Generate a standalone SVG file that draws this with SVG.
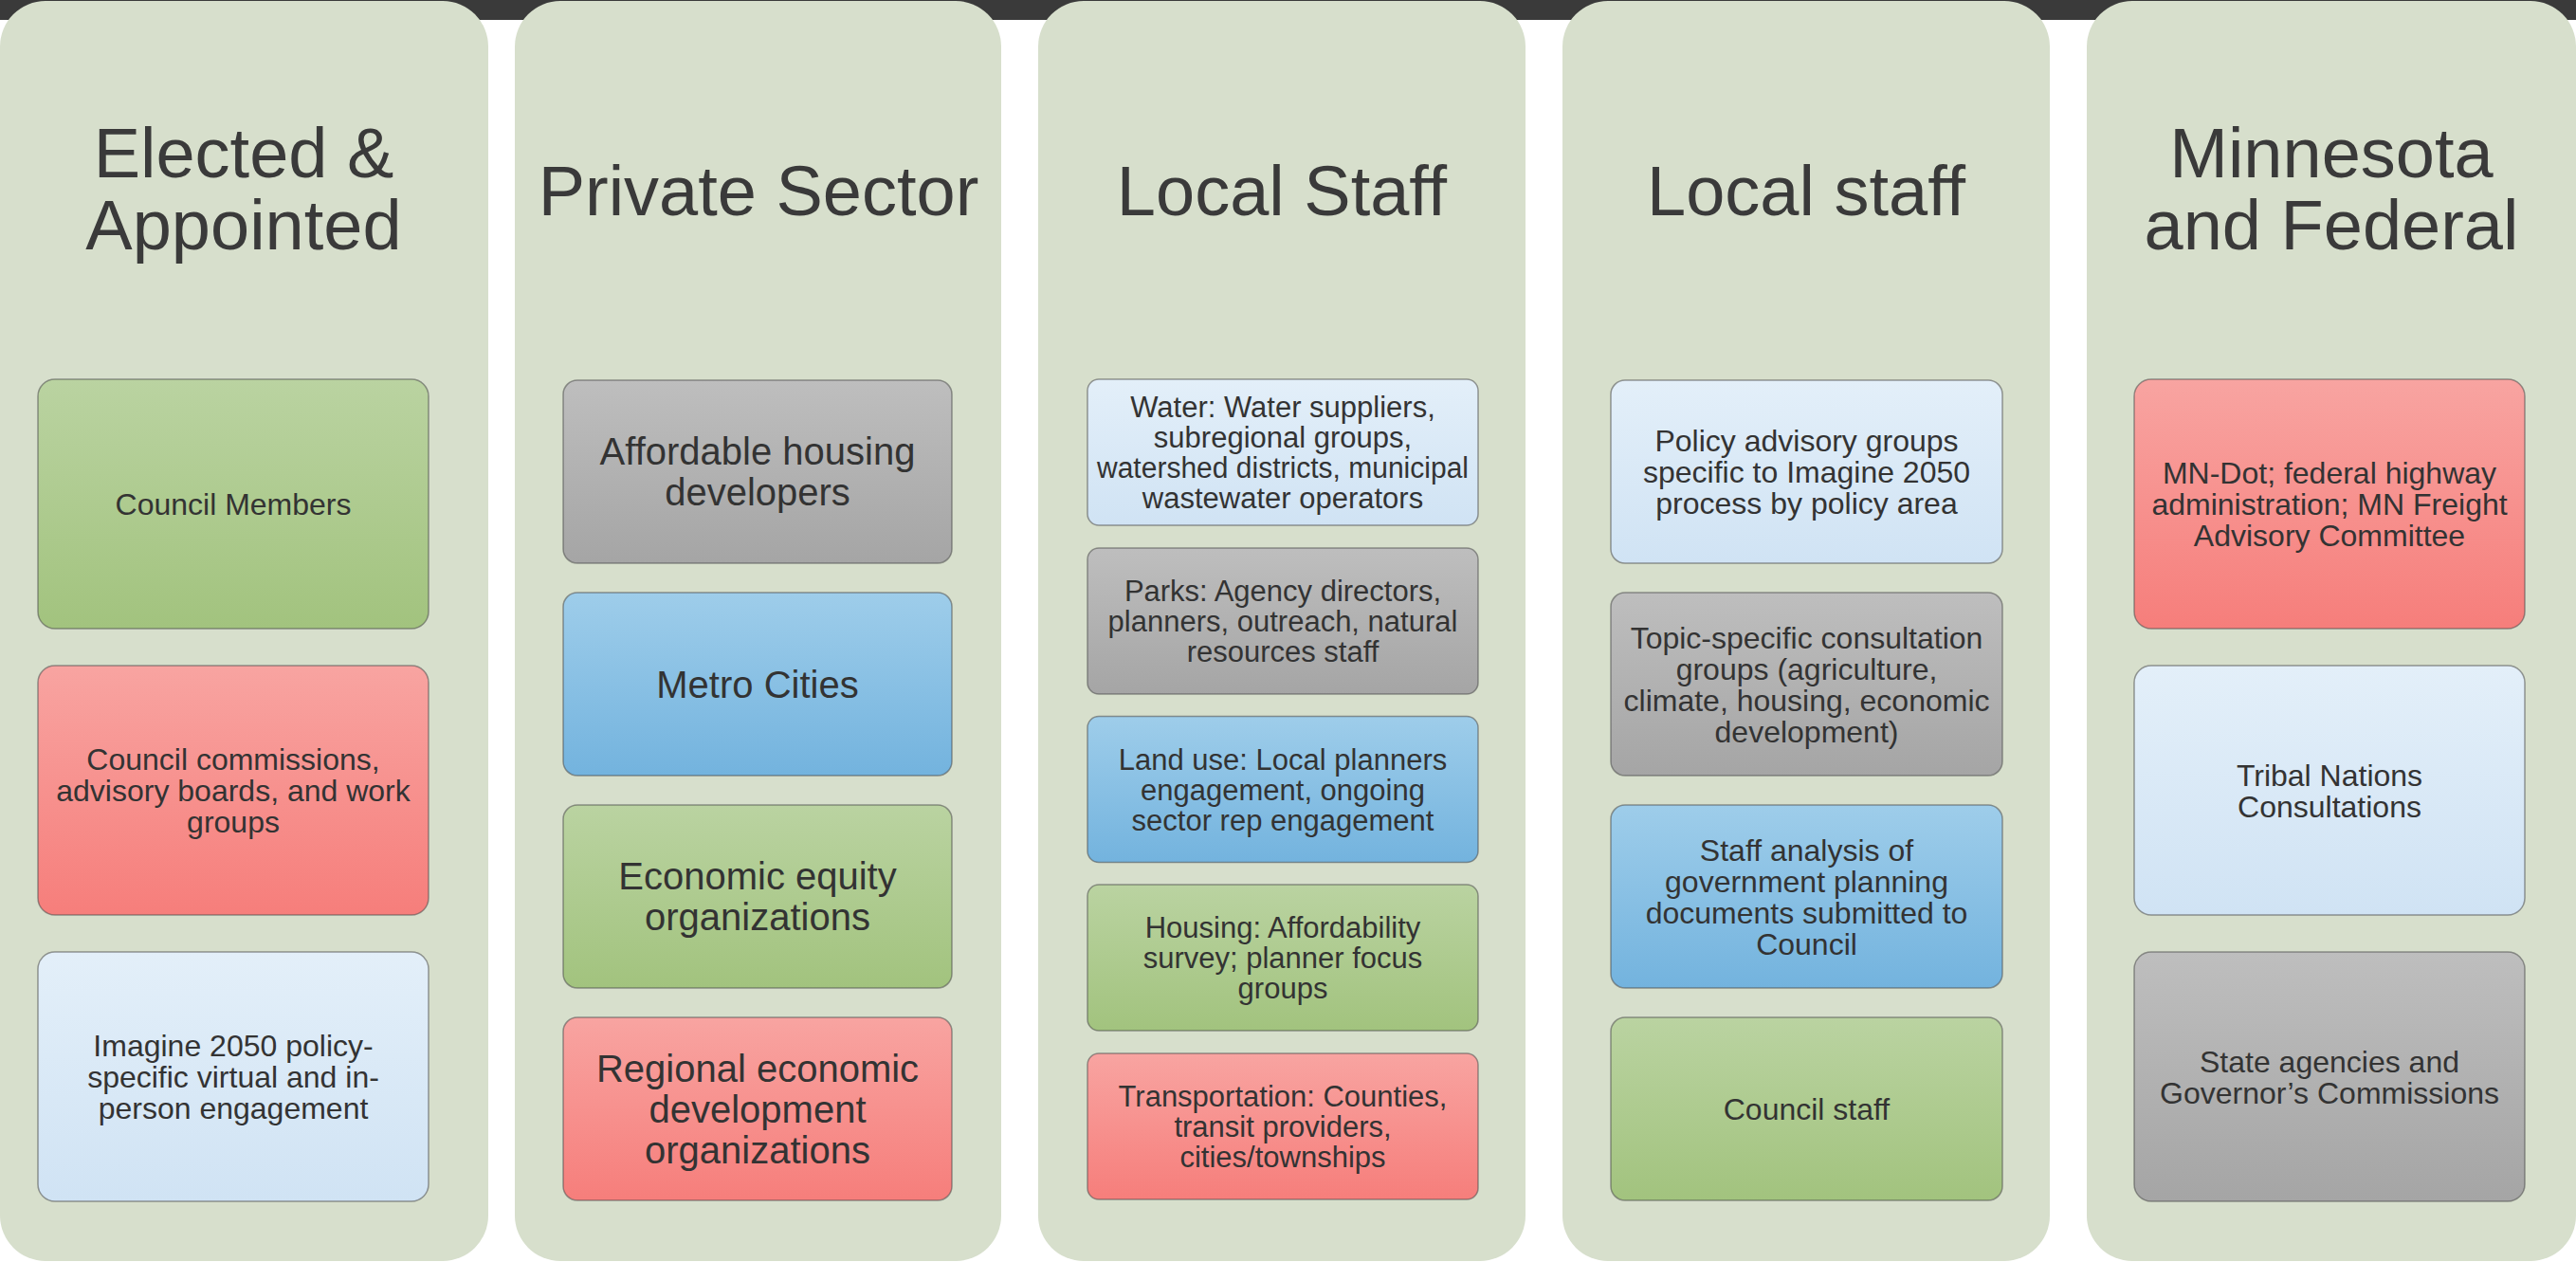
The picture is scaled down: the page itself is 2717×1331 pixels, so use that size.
<svg xmlns="http://www.w3.org/2000/svg" width="2717" height="1331" viewBox="0 0 2717 1331">
<style>
.col{fill:#d7dfcc}
.box{stroke:#4d4d4d;stroke-opacity:0.55;stroke-width:1.5}
.title{font-family:"Liberation Sans",Arial,sans-serif;font-size:74px;fill:#3a3a3a;text-anchor:middle}
.t32{font-family:"Liberation Sans",Arial,sans-serif;font-size:32px;fill:#333;text-anchor:middle}
.t31{font-family:"Liberation Sans",Arial,sans-serif;font-size:31px;fill:#333;text-anchor:middle}
.t40{font-family:"Liberation Sans",Arial,sans-serif;font-size:40px;fill:#333;text-anchor:middle}
</style>
<defs>
<linearGradient id="gGreen" x1="0" y1="0" x2="0" y2="1"><stop offset="0" stop-color="#bad3a1"/><stop offset="1" stop-color="#a2c37e"/></linearGradient>
<linearGradient id="gRed" x1="0" y1="0" x2="0" y2="1"><stop offset="0" stop-color="#f8a4a1"/><stop offset="1" stop-color="#f67e7b"/></linearGradient>
<linearGradient id="gLight" x1="0" y1="0" x2="0" y2="1"><stop offset="0" stop-color="#e3eff9"/><stop offset="1" stop-color="#d0e3f4"/></linearGradient>
<linearGradient id="gGray" x1="0" y1="0" x2="0" y2="1"><stop offset="0" stop-color="#bebebe"/><stop offset="1" stop-color="#a5a5a5"/></linearGradient>
<linearGradient id="gBlue" x1="0" y1="0" x2="0" y2="1"><stop offset="0" stop-color="#9ecdea"/><stop offset="1" stop-color="#73b3de"/></linearGradient>
</defs>
<rect x="0" y="0" width="2717" height="1331" fill="#ffffff"/>
<rect x="0" y="0" width="2717" height="21" fill="#3a3a3a"/>

<g id="col-elected">
<rect class="col" x="0" y="1" width="515" height="1329" rx="48"/>
<text class="title" x="257" y="187">Elected &amp;</text>
<text class="title" x="257" y="263">Appointed</text>
</g>
<g id="col-private">
<rect class="col" x="543" y="1" width="513" height="1329" rx="48"/>
<text class="title" x="800" y="227">Private Sector</text>
</g>
<g id="col-localstaff1">
<rect class="col" x="1095" y="1" width="514" height="1329" rx="48"/>
<text class="title" x="1352" y="227">Local Staff</text>
</g>
<g id="col-localstaff2">
<rect class="col" x="1648" y="1" width="514" height="1329" rx="48"/>
<text class="title" x="1905" y="227">Local staff</text>
</g>
<g id="col-mnfed">
<rect class="col" x="2201" y="1" width="516" height="1329" rx="48"/>
<text class="title" x="2459" y="187">Minnesota</text>
<text class="title" x="2459" y="263">and Federal</text>
</g>

<g id="n-council-members">
<rect class="box" x="40" y="400" width="412" height="263" rx="18" fill="url(#gGreen)"/>
<text class="t32" x="246" y="543">Council Members</text>
</g>
<g id="n-council-commissions">
<rect class="box" x="40" y="702" width="412" height="263" rx="18" fill="url(#gRed)"/>
<text class="t32" x="246" y="812">Council commissions,<tspan x="246" dy="33">advisory boards, and work</tspan><tspan x="246" dy="33">groups</tspan></text>
</g>
<g id="n-imagine-engagement">
<rect class="box" x="40" y="1004" width="412" height="263" rx="18" fill="url(#gLight)"/>
<text class="t32" x="246" y="1114">Imagine 2050 policy-<tspan x="246" dy="33">specific virtual and in-</tspan><tspan x="246" dy="33">person engagement</tspan></text>
</g>

<g id="n-affordable-housing">
<rect class="box" x="594" y="401" width="410" height="193" rx="15" fill="url(#gGray)"/>
<text class="t40" x="799" y="490">Affordable housing<tspan x="799" dy="43">developers</tspan></text>
</g>
<g id="n-metro-cities">
<rect class="box" x="594" y="625" width="410" height="193" rx="15" fill="url(#gBlue)"/>
<text class="t40" x="799" y="736">Metro Cities</text>
</g>
<g id="n-economic-equity">
<rect class="box" x="594" y="849" width="410" height="193" rx="15" fill="url(#gGreen)"/>
<text class="t40" x="799" y="938">Economic equity<tspan x="799" dy="43">organizations</tspan></text>
</g>
<g id="n-regional-econ">
<rect class="box" x="594" y="1073" width="410" height="193" rx="15" fill="url(#gRed)"/>
<text class="t40" x="799" y="1141">Regional economic<tspan x="799" dy="43">development</tspan><tspan x="799" dy="43">organizations</tspan></text>
</g>

<g id="n-water">
<rect class="box" x="1147" y="400" width="412" height="154" rx="12" fill="url(#gLight)"/>
<text class="t31" x="1353" y="440">Water: Water suppliers,<tspan x="1353" dy="32">subregional groups,</tspan><tspan x="1353" dy="32" textLength="392" lengthAdjust="spacingAndGlyphs">watershed districts, municipal</tspan><tspan x="1353" dy="32">wastewater operators</tspan></text>
</g>
<g id="n-parks">
<rect class="box" x="1147" y="578" width="412" height="154" rx="12" fill="url(#gGray)"/>
<text class="t31" x="1353" y="634">Parks: Agency directors,<tspan x="1353" dy="32">planners, outreach, natural</tspan><tspan x="1353" dy="32">resources staff</tspan></text>
</g>
<g id="n-landuse">
<rect class="box" x="1147" y="755.5" width="412" height="154" rx="12" fill="url(#gBlue)"/>
<text class="t31" x="1353" y="811.6">Land use: Local planners<tspan x="1353" dy="32">engagement, ongoing</tspan><tspan x="1353" dy="32">sector rep engagement</tspan></text>
</g>
<g id="n-housing">
<rect class="box" x="1147" y="933" width="412" height="154" rx="12" fill="url(#gGreen)"/>
<text class="t31" x="1353" y="989.3">Housing: Affordability<tspan x="1353" dy="32">survey; planner focus</tspan><tspan x="1353" dy="32">groups</tspan></text>
</g>
<g id="n-transportation">
<rect class="box" x="1147" y="1111" width="412" height="154" rx="12" fill="url(#gRed)"/>
<text class="t31" x="1353" y="1167">Transportation: Counties,<tspan x="1353" dy="32">transit providers,</tspan><tspan x="1353" dy="32">cities/townships</tspan></text>
</g>

<g id="n-policy-advisory">
<rect class="box" x="1699" y="401" width="413" height="193" rx="15" fill="url(#gLight)"/>
<text class="t32" x="1905.5" y="476">Policy advisory groups<tspan x="1905.5" dy="33">specific to Imagine 2050</tspan><tspan x="1905.5" dy="33">process by policy area</tspan></text>
</g>
<g id="n-topic-specific">
<rect class="box" x="1699" y="625" width="413" height="193" rx="15" fill="url(#gGray)"/>
<text class="t32" x="1905.5" y="683.5">Topic-specific consultation<tspan x="1905.5" dy="33">groups (agriculture,</tspan><tspan x="1905.5" dy="33">climate, housing, economic</tspan><tspan x="1905.5" dy="33">development)</tspan></text>
</g>
<g id="n-staff-analysis">
<rect class="box" x="1699" y="849" width="413" height="193" rx="15" fill="url(#gBlue)"/>
<text class="t32" x="1905.5" y="907.5">Staff analysis of<tspan x="1905.5" dy="33">government planning</tspan><tspan x="1905.5" dy="33">documents submitted to</tspan><tspan x="1905.5" dy="33">Council</tspan></text>
</g>
<g id="n-council-staff">
<rect class="box" x="1699" y="1073" width="413" height="193" rx="15" fill="url(#gGreen)"/>
<text class="t32" x="1905.5" y="1181">Council staff</text>
</g>

<g id="n-mndot">
<rect class="box" x="2251" y="400" width="412" height="263" rx="18" fill="url(#gRed)"/>
<text class="t32" x="2457" y="510">MN-Dot; federal highway<tspan x="2457" dy="33">administration; MN Freight</tspan><tspan x="2457" dy="33">Advisory Committee</tspan></text>
</g>
<g id="n-tribal">
<rect class="box" x="2251" y="702" width="412" height="263" rx="18" fill="url(#gLight)"/>
<text class="t32" x="2457" y="828.5">Tribal Nations<tspan x="2457" dy="33">Consultations</tspan></text>
</g>
<g id="n-state-agencies">
<rect class="box" x="2251" y="1004" width="412" height="263" rx="18" fill="url(#gGray)"/>
<text class="t32" x="2457" y="1130.5">State agencies and<tspan x="2457" dy="33">Governor’s Commissions</tspan></text>
</g>

<g id="connectors"></g>
</svg>
